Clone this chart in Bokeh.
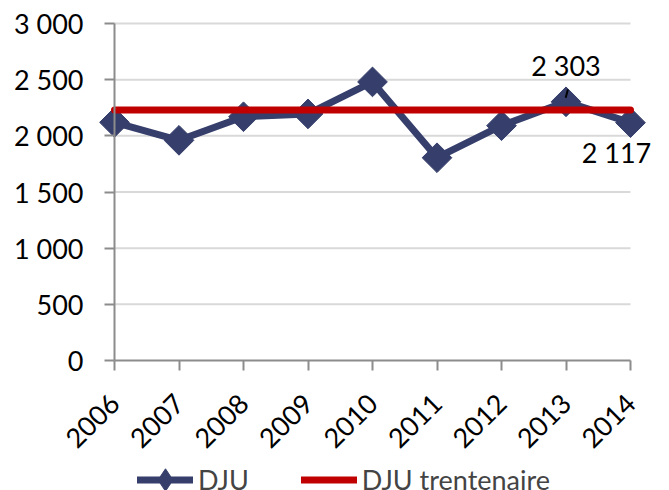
from bokeh.plotting import figure
from bokeh.models import FixedTicker, Legend, LegendItem, Range1d, LabelSet, ColumnDataSource
from bokeh.embed import file_html
from bokeh.resources import INLINE
from bokeh.core.properties import value
import math

years = [2006, 2007, 2008, 2009, 2010, 2011, 2012, 2013, 2014]
dju = [2120, 1960, 2170, 2195, 2480, 1805, 2090, 2303, 2117]
dju_30 = [2230] * len(years)
y_ticks = [0, 500, 1000, 1500, 2000, 2500, 3000]
y_tick_labels = ["0", "500", "1 000", "1 500", "2 000", "2 500", "3 000"]
label_years = [2013, 2014]
label_values = [2303, 2117]
label_texts = ["2 303", "2 117"]

FONT = "Lato"
FS = "27px"
BLUE = "#363f6c"
RED = "#c00000"

# plot area: 516px for 2006..2014 starting 114px from the left,
# 337px for 0..3000 starting 23px from the top; the frame fills the whole figure
W, H = 669, 490
LEFT, TOP = 114, 23
px_per_year = 516 / (years[-1] - years[0])
px_per_unit = 337 / y_ticks[-1]
x0 = years[0] - LEFT / px_per_year
y1 = y_ticks[-1] + TOP / px_per_unit
p = figure(frame_width=W, frame_height=H, output_backend="svg", toolbar_location=None,
           x_range=Range1d(x0, x0 + W / px_per_year),
           y_range=Range1d(y1 - H / px_per_unit, y1),
           min_border=0)
p.outline_line_color = None
p.background_fill_color = "white"

p.xaxis.ticker = FixedTicker(ticks=years)
p.xaxis.bounds = (years[0], years[-1])
p.xaxis.fixed_location = 0
p.xaxis.major_label_overrides = {y: str(y) for y in years}
p.xaxis.major_label_orientation = math.pi / 4
p.yaxis.ticker = FixedTicker(ticks=y_ticks)
p.yaxis.bounds = (0, y_ticks[-1])
p.yaxis.fixed_location = years[0]
p.yaxis.major_label_overrides = dict(zip(y_ticks, y_tick_labels))
for ax in (p.xaxis, p.yaxis):
    ax.axis_line_color = "#8c8c8c"
    ax.axis_line_width = 2
    ax.major_tick_line_color = "#8c8c8c"
    ax.major_tick_line_width = 2
    ax.major_tick_out = 10
    ax.major_tick_in = 0
    ax.minor_tick_line_color = None
    ax.major_label_text_font = FONT
    ax.major_label_text_font_size = FS
    ax.major_label_text_color = "black"
p.yaxis.major_label_standoff = 21
p.xaxis.major_label_standoff = 28
p.xgrid.grid_line_color = None
p.ygrid.grid_line_color = None

# horizontal gridlines limited to the category span
grid_y = [t for t in y_ticks if t > 0]
p.segment(x0=[years[0]] * len(grid_y), x1=[years[-1]] * len(grid_y), y0=grid_y, y1=grid_y,
          line_color="#d9d9d9", line_width=2)

r_line = p.line(years, dju, line_color=BLUE, line_width=7, line_cap="round")
# diamond marker used for the legend swatch; hidden behind the larger markers below
r_leg = p.scatter(years, dju, marker="diamond", size=18, fill_color=BLUE, line_color=BLUE)
r_mark = p.scatter(years, dju, marker="square", angle=math.pi / 4, size=21,
                   fill_color=BLUE, line_color=BLUE, line_width=1)
r_red = p.line(years, dju_30, line_color=RED, line_width=7, line_cap="round")

# leader line for 2013 label
p.segment(x0=[label_years[0] - 0.005], y0=[label_values[0] + 35],
          x1=[label_years[0] + 0.03], y1=[label_values[0] + 110],
          line_color="black", line_width=2)

src = ColumnDataSource(dict(x=label_years, y=label_values, t=label_texts,
                            xo=[0, -14], yo=[36, -30]))
p.add_layout(LabelSet(x="x", y="y", text="t", source=src, x_offset="xo", y_offset="yo",
                      text_font=value(FONT), text_font_size=FS, text_align="center",
                      text_baseline="middle", text_color="black"))

legend = Legend(items=[LegendItem(label="DJU", renderers=[r_line, r_leg]),
                       LegendItem(label="DJU trentenaire", renderers=[r_red])],
                orientation="horizontal", location=(137, -27),
                label_text_font=FONT, label_text_font_size=FS,
                glyph_width=56, glyph_height=75, spacing=52,
                border_line_color=None, background_fill_alpha=0,
                margin=0, padding=0, label_standoff=5)
p.add_layout(legend, "center")

open("out.html", "w").write(file_html(p, INLINE))
